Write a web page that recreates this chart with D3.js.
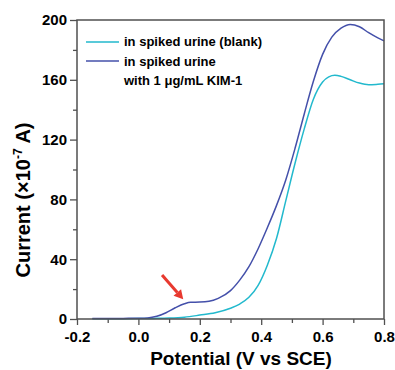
<!DOCTYPE html>
<html><head><meta charset="utf-8">
<script src="https://cdn.jsdelivr.net/npm/d3@7"></script>
<style>
body{margin:0;background:#fff;}
text{font-family:Arial,"Liberation Sans",sans-serif;font-weight:bold;fill:#000;}
</style></head>
<body>
<svg id="c" width="395" height="370"></svg>
<script>
// Data
const potentialBlank = [-0.15,-0.1,0.0,0.05,0.1,0.15,0.2,0.25,0.3,0.33,0.36,0.39,0.42,0.45,0.48,0.51,0.54,0.57,0.6,0.62,0.64,0.66,0.69,0.72,0.75,0.78,0.8];
const currentBlank   = [0.2,0.2,0.3,0.4,0.6,1.2,2.6,4.2,7.2,10,14.5,22.5,36,54,79,104,127,147,158.5,162,163,162.3,160,157.8,156.7,157,157.3];
const potentialKim = [-0.15,-0.1,-0.05,0.0,0.03,0.06,0.09,0.12,0.15,0.17,0.2,0.23,0.26,0.3,0.33,0.36,0.39,0.42,0.45,0.48,0.51,0.54,0.57,0.6,0.63,0.66,0.69,0.72,0.75,0.78,0.8];
const currentKim   = [0.3,0.3,0.4,0.5,0.7,1.8,4.2,7.5,10.2,11.2,11.3,11.8,13.8,19,26,35,47,61,76,93,114,137,159,177,188.5,194.5,197,195.5,191.5,188,186];
const xTicks = [-0.2,0.0,0.2,0.4,0.6,0.8];
const xTickLabels = ["-0.2","0.0","0.2","0.4","0.6","0.8"];
const xMinor = [-0.1,0.1,0.3,0.5,0.7];
const yTicks = [0,40,80,120,160,200];
const yMinor = [20,60,100,140,180];
const seriesNames = ["in spiked urine (blank)", "in spiked urine", "with 1 \u03bcg/mL KIM-1"];
const arrowFrom = [0.077, 29.4], arrowTo = [0.146, 13.2];

const colBlank = "#22b9cd", colKim = "#4450aa", axisCol = "#505050";
const m = {l:77, t:20, r:11, b:51};
const W = 395 - m.l - m.r, H = 370 - m.t - m.b;
const svg = d3.select("#c");
const g = svg.append("g").attr("transform", `translate(${m.l},${m.t})`);
const x = d3.scaleLinear().domain([-0.2,0.8]).range([0,W]);
const y = d3.scaleLinear().domain([0,200]).range([H,0]);

const styleAxis = a=>{a.select(".domain").remove();a.selectAll("line").attr("stroke",axisCol).attr("stroke-width",1.3);
    a.selectAll("text").attr("font-size",15).attr("font-family",'Arial,"Liberation Sans",sans-serif').attr("font-weight","bold").attr("fill","#000");};
// minor ticks
g.append("g").attr("transform",`translate(0,${H})`)
  .call(d3.axisBottom(x).tickValues(xMinor).tickSize(4).tickFormat("")).call(styleAxis);
g.append("g")
  .call(d3.axisLeft(y).tickValues(yMinor).tickSize(4).tickFormat("")).call(styleAxis);
// major ticks
g.append("g").attr("transform",`translate(0,${H})`)
  .call(d3.axisBottom(x).tickValues(xTicks).tickSize(6).tickPadding(6).tickFormat((d,i)=>xTickLabels[i]))
  .call(styleAxis);
g.append("g")
  .call(d3.axisLeft(y).tickValues(yTicks).tickSize(7).tickPadding(3))
  .call(styleAxis);

// lines
const line = d3.line().x(d=>x(d[0])).y(d=>y(d[1])).curve(d3.curveMonotoneX);
g.append("path").datum(d3.zip(potentialBlank,currentBlank)).attr("d",line)
  .attr("fill","none").attr("stroke",colBlank).attr("stroke-width",1.5);
g.append("path").datum(d3.zip(potentialKim,currentKim)).attr("d",line)
  .attr("fill","none").attr("stroke",colKim).attr("stroke-width",1.5);

// frame
g.append("rect").attr("width",W).attr("height",H).attr("fill","none")
  .attr("stroke",axisCol).attr("stroke-width",1.5);

// legend
const lg = g.append("g");
lg.append("line").attr("x1",9).attr("x2",42).attr("y1",22).attr("y2",22).attr("stroke",colBlank).attr("stroke-width",1.5);
lg.append("line").attr("x1",9).attr("x2",42).attr("y1",41).attr("y2",41).attr("stroke",colKim).attr("stroke-width",1.5);
lg.append("text").attr("x",47).attr("y",26).attr("font-size",13).text(seriesNames[0]);
lg.append("text").attr("x",47).attr("y",46).attr("font-size",13).text(seriesNames[1]);
lg.append("text").attr("x",47).attr("y",65).attr("font-size",13).text(seriesNames[2]);

// arrow
const ax0=x(arrowFrom[0]), ay0=y(arrowFrom[1]), ax1=x(arrowTo[0]), ay1=y(arrowTo[1]);
const ang=Math.atan2(ay1-ay0, ax1-ax0), hl=9, hw=5;
const bx=ax1-hl*Math.cos(ang), by=ay1-hl*Math.sin(ang);
g.append("line").attr("x1",ax0).attr("y1",ay0).attr("x2",bx).attr("y2",by)
  .attr("stroke","#e8392f").attr("stroke-width",3);
g.append("path").attr("d",`M${ax1},${ay1}L${bx+hw*Math.sin(ang)},${by-hw*Math.cos(ang)}L${bx-hw*Math.sin(ang)},${by+hw*Math.cos(ang)}Z`)
  .attr("fill","#e8392f");

// axis titles
svg.append("text").attr("x",241).attr("y",365).attr("text-anchor","middle").attr("font-size",19)
  .text("Potential (V vs SCE)");
const yt = svg.append("text").attr("transform","translate(30,200) rotate(-90)").attr("text-anchor","middle").attr("font-size",20);
yt.append("tspan").text("Current (\u00d710");
yt.append("tspan").attr("font-size",12).attr("dy",-8).text("-7");
yt.append("tspan").attr("dy",8).text(" A)");
</script>
</body></html>
